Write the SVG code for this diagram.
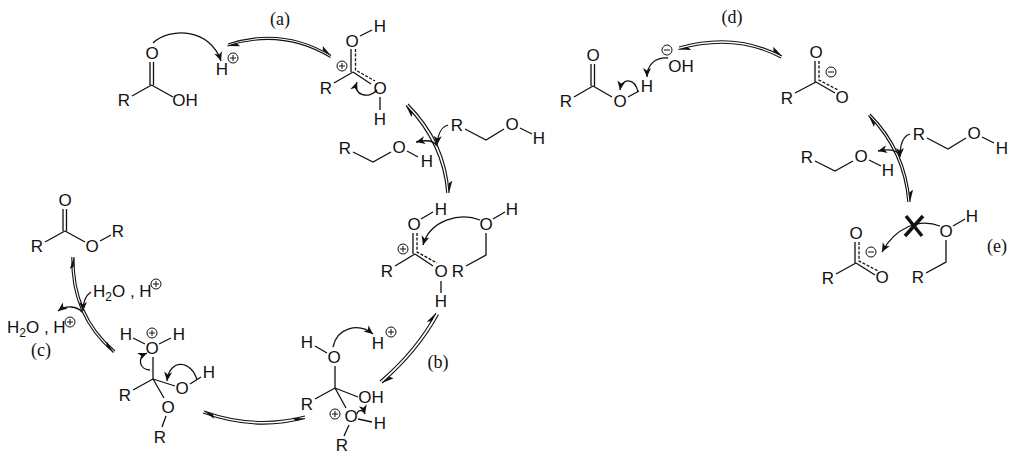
<svg xmlns="http://www.w3.org/2000/svg" width="1024" height="463" viewBox="0 0 1024 463">
<style>
text{font-family:"Liberation Sans",Arial,sans-serif;font-size:17px;fill:#111;text-anchor:middle}
text.l{font-family:"Liberation Serif","Times New Roman",serif;font-size:18px}
text.s{text-anchor:start}
tspan.sub{font-size:12px}
.b{fill:none;stroke:#111;stroke-width:1.3}
.d{fill:none;stroke:#111;stroke-width:1.3;stroke-dasharray:3 1.6}
.e{fill:none;stroke:#111;stroke-width:1.1;marker-end:url(#half)}
.c{fill:none;stroke:#111;stroke-width:1.3;marker-end:url(#head)}
.sym{fill:none;stroke:#111;stroke-width:1}
</style>
<defs>
<marker id="half" markerUnits="userSpaceOnUse" markerWidth="13" markerHeight="6" refX="12" refY="5" orient="auto" overflow="visible"><path d="M12,5 L0,1 L2.5,5 Z" fill="#111"/></marker>
<marker id="head" markerUnits="userSpaceOnUse" markerWidth="10" markerHeight="8" refX="9" refY="4" orient="auto" overflow="visible"><path d="M9,4 L0,0 L2.5,4 L0,8 Z" fill="#111"/></marker>
<g id="plus"><circle r="5" class="sym"/><path d="M-3,0H3M0,-3V3" class="sym"/></g>
<g id="minus"><circle r="5" class="sym"/><path d="M-3,0H3" class="sym"/></g>
</defs>
<rect width="1024" height="463" fill="#fff"/>

<g id="connectors">
<!-- a -->
<path class="e" d="M228,44 Q282,26 331,55.500"/>
<path class="e" d="M330.500,57.500 Q282,28.500 227.500,46"/>
<path class="c" d="M153,43 C170,27 210,28 221,61"/>
<path class="c" d="M377,90 C370,99 352,96 357,82"/>
<path class="e" d="M408,104 Q446,142 449,193"/>
<path class="e" d="M446.800,193 Q443,144 406,105.500"/>
<path class="c" d="M448,125 C441,127 438,133 437,145"/>
<path class="c" d="M437,146 C434,140 425,140 416,142"/>
<path class="c" d="M480,220 C460,212 430,220 423,245"/>
<!-- b -->
<path class="e" d="M380,381 Q416,350 436,313"/>
<path class="e" d="M438.500,314.500 Q418,352 382,383"/>
<path class="c" d="M333,347 C337,328 358,322 373,334"/>
<path class="c" d="M357,414 C358,409 364,410 365,414"/>
<path class="e" d="M305,416 Q255,429 204,411"/>
<path class="e" d="M203,413 Q255,432 305,418.500"/>
<!-- c -->
<path class="c" d="M197,380 C192,361 170,357 167,381"/>
<path class="c" d="M150,370 C140,370 136,358 147,353"/>
<path class="e" d="M115,351 Q73,315 74,257"/>
<path class="e" d="M71.800,257 Q70.500,316 113.500,352.500"/>
<path class="c" d="M91,292 C85,296 83,302 83,311"/>
<path class="c" d="M82,312 C77,306 66,305 58,311"/>
<!-- d -->
<path class="e" d="M679,47 Q735,31 782,56"/>
<path class="e" d="M781,58 Q735,33.500 678.500,49.500"/>
<path class="c" d="M668,58 C655,57 647,65 647,77"/>
<path class="c" d="M638,92 C635,78 622,77 620,90"/>
<!-- e -->
<path class="e" d="M870,114 Q906,150 910,202"/>
<path class="e" d="M907.800,202 Q904,152 868.500,115.500"/>
<path class="c" d="M910,134 C903,136 900,143 900,157"/>
<path class="c" d="M900,155 C896,149 887,149 878,151"/>
<path class="c" d="M940,226 C918,218 895,228 882,252"/>
</g>

<g id="acid">
<text x="152" y="59">O</text><text x="124" y="106">R</text><text x="185" y="106">OH</text>
<path class="b" d="M150,62V85M153.500,62V85M151.500,85L132,96M151.500,85L173,97"/>
</g>
<g id="proton-a"><text x="222" y="75">H</text><use href="#plus" x="233" y="58"/></g>
<text class="l" x="280" y="25">(a)</text>

<g id="protonated-acid">
<text x="352" y="47">O</text><text x="380" y="32">H</text><text x="326" y="94">R</text><text x="380" y="94">O</text><text x="380" y="125">H</text>
<use href="#plus" x="342" y="66"/>
<path class="b" d="M360,36L372,30M351,49V72M353,72L334,83M353,72L371,84M380,97V110"/>
<path class="d" d="M355.500,49V70L375,81"/>
</g>

<g id="alcohol-a1">
<text x="345" y="154">R</text><text x="399" y="153">O</text><text x="427" y="167">H</text>
<path class="b" d="M353,152L373,162L391,152M407,151L418,157"/>
</g>
<g id="alcohol-a2">
<text x="457" y="131">R</text><text x="512" y="130">O</text><text x="539" y="144">H</text>
<path class="b" d="M465,129L486,140L504,129M520,128L532,134"/>
</g>

<g id="intermediate-1">
<text x="414" y="230">O</text><text x="441" y="215">H</text><text x="387" y="277">R</text><text x="441" y="277">O</text><text x="441" y="307">H</text>
<use href="#plus" x="403" y="249"/>
<path class="b" d="M421,219L433,212M413,233V254M415,254L395,266M415,254L433,266M441,281V293"/>
<path class="d" d="M417,233V252L437,263"/>
</g>
<g id="alcohol-b">
<text x="486" y="230">O</text><text x="512" y="215">H</text><text x="458" y="277">R</text>
<path class="b" d="M493,219L505,212M486,233V255L466,266"/>
</g>

<g id="tetrahedral-1">
<text x="307" y="348">H</text><text x="334" y="363">O</text><text x="307" y="410">R</text><text x="371" y="403">OH</text><text x="351" y="422">O</text><text x="380" y="429">H</text><text x="342" y="451">R</text>
<use href="#plus" x="335" y="414"/>
<path class="b" d="M315,346L327,353M335,366V388M335,388L315,399M335,388L358,397M335,388L346,408M358,419L372,422M349,425L344,436"/>
</g>
<g id="proton-b"><text x="378" y="349">H</text><use href="#plus" x="391" y="332"/></g>
<text class="l" x="438" y="368">(b)</text>

<g id="tetrahedral-2">
<text x="126" y="340">H</text><text x="152" y="354">O</text><text x="179" y="340">H</text><text x="125" y="401">R</text><text x="182" y="394">O</text><text x="209" y="378">H</text><text x="168" y="413">O</text><text x="160" y="443">R</text>
<use href="#plus" x="152" y="333"/>
<path class="b" d="M133,338L145,344M159,344L171,338M153,357V379M153,379L133,390M153,379L175,386M190,384L201,377M153,379L164,398M166,416L162,427"/>
</g>

<g id="ester">
<text x="65" y="206">O</text><text x="37" y="252">R</text><text x="92" y="252">O</text><text x="118" y="237">R</text>
<path class="b" d="M63,209V231M66.500,209V231M65,231L45,242M65,231L85,242M100,241L111,235"/>
</g>
<g id="reagent-c1"><text class="s" x="93" y="297">H<tspan class="sub" dy="4">2</tspan><tspan dy="-4">O , H</tspan></text><use href="#plus" x="156" y="284"/></g>
<g id="reagent-c2"><text class="s" x="7" y="333">H<tspan class="sub" dy="4">2</tspan><tspan dy="-4">O , H</tspan></text><use href="#plus" x="70" y="322"/></g>
<text class="l" x="41" y="356">(c)</text>

<g id="acid-d">
<text x="593" y="61">O</text><text x="566" y="107">R</text><text x="620" y="107">O</text><text x="647" y="92">H</text>
<path class="b" d="M591,64V86M594.500,64V86M593,86L574,97M593,86L612,97M628,97L639,91"/>
</g>
<g id="hydroxide"><text x="681" y="72">OH</text><use href="#minus" x="667" y="50"/></g>
<text class="l" x="732" y="23">(d)</text>

<g id="carboxylate-1">
<text x="816" y="58">O</text><text x="787" y="104">R</text><text x="842" y="103">O</text>
<use href="#minus" x="831" y="72"/>
<path class="b" d="M815,61V82M816,82L795,93M816,82L835,93"/>
<path class="d" d="M819,61V80L838,90"/>
</g>
<g id="alcohol-d1">
<text x="807" y="163">R</text><text x="861" y="162">O</text><text x="888" y="176">H</text>
<path class="b" d="M815,161L835,171L853,161M869,160L881,166"/>
</g>
<g id="alcohol-d2">
<text x="919" y="140">R</text><text x="974" y="139">O</text><text x="1002" y="154">H</text>
<path class="b" d="M927,138L948,149L966,138M982,137L994,143"/>
</g>

<g id="carboxylate-2">
<text x="856" y="239">O</text><text x="828" y="284">R</text><text x="882" y="283">O</text>
<use href="#minus" x="871" y="252"/>
<path class="b" d="M855,242V263M856,263L836,274M856,263L875,275"/>
<path class="d" d="M859,242V261L878,271"/>
</g>
<g id="alcohol-e">
<text x="946" y="237">O</text><text x="972" y="222">H</text><text x="918" y="283">R</text>
<path class="b" d="M953,226L965,219M946,240V262L926,273"/>
</g>
<path id="blocked" d="M906,216L922,236M923,216L905,236" fill="none" stroke="#111" stroke-width="3.500"/>
<text class="l" x="997" y="252">(e)</text>
</svg>
